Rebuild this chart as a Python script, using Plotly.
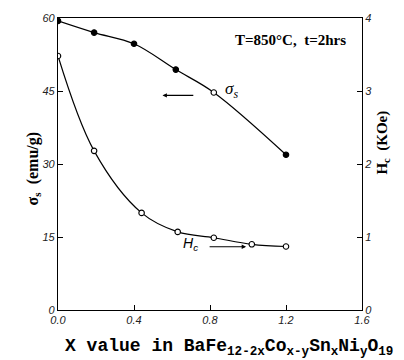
import plotly.graph_objects as go

# sigma_s data (left axis, emu/g)
sigma_x = [0.0, 0.19, 0.40, 0.62, 0.82, 1.20]
sigma_y = [59.4, 57.0, 54.7, 49.4, 44.7, 31.9]
sigma_filled = [True, True, True, True, False, True]

# Hc data (right axis, KOe)
hc_x = [0.0, 0.19, 0.44, 0.63, 0.82, 1.02, 1.20]
hc_y = [3.48, 2.18, 1.33, 1.07, 0.99, 0.90, 0.87]

x_ticks = [0.0, 0.4, 0.8, 1.2, 1.6]
x_ticklabels = ["0.0", "0.4", "0.8", "1.2", "1.6"]
y1_ticks = [0, 15, 30, 45, 60]
y2_ticks = [0, 1, 2, 3, 4]

serif = "Liberation Serif"

fig = go.Figure()
fig.add_trace(go.Scatter(
    x=sigma_x, y=sigma_y, mode="lines+markers",
    line=dict(color="black", width=1.2, shape="spline", smoothing=1.0),
    marker=dict(size=5.5, symbol="circle",
                color=["black" if f else "white" for f in sigma_filled],
                line=dict(color="black", width=1.1)),
    showlegend=False, yaxis="y"))
fig.add_trace(go.Scatter(
    x=hc_x, y=hc_y, mode="lines+markers",
    line=dict(color="black", width=1.2, shape="spline", smoothing=1.0),
    marker=dict(size=5.5, symbol="circle", color="white",
                line=dict(color="black", width=1.1)),
    showlegend=False, yaxis="y2"))

tickfont = dict(family="Liberation Sans", size=11, color="#222", style="italic")

fig.update_layout(
    width=404, height=360,
    margin=dict(l=58, r=42, t=15, b=50),
    plot_bgcolor="white", paper_bgcolor="white",
    xaxis=dict(range=[0, 1.6], tickvals=x_ticks, ticktext=x_ticklabels,
               ticks="inside", ticklen=5, tickcolor="black",
               showline=True, linecolor="black", linewidth=1.2, mirror=True,
               showgrid=False, zeroline=False, tickfont=tickfont),
    yaxis=dict(range=[0, 60], tickvals=y1_ticks,
               ticks="inside", ticklen=5, tickcolor="black",
               showline=True, linecolor="black", linewidth=1.2,
               showgrid=False, zeroline=False, tickfont=tickfont),
    yaxis2=dict(range=[0, 4], tickvals=y2_ticks, overlaying="y", side="right",
                ticks="inside", ticklen=5, tickcolor="black",
                showline=True, linecolor="black", linewidth=1.2,
                showgrid=False, zeroline=False, tickfont=tickfont),
)

# axis titles
fig.add_annotation(x=-0.12, y=0.485, xref="paper", yref="paper", textangle=-90,
                   text="σ<sub>s</sub>  (emu/g)", showarrow=False,
                   font=dict(family=serif, size=16, color="black", weight="bold"))
fig.add_annotation(x=1.105, y=0.573, xref="paper", yref="paper", textangle=-90,
                   text="H<sub>c</sub>  (KOe)", showarrow=False,
                   font=dict(family=serif, size=15, color="black", weight="bold"))
fig.add_annotation(x=0.563, y=-0.128, xref="paper", yref="paper", yanchor="middle",
                   text="X value in BaFe<sub>12-2x</sub>Co<sub>x-y</sub>Sn<sub>x</sub>Ni<sub>y</sub>O<sub>19</sub>",
                   showarrow=False,
                   font=dict(family="Liberation Mono", size=18, color="black", weight="bold"))

fig.add_annotation(x=1.226, y=55.5, xref="x", yref="y", text="<b>T=850°C,  t=2hrs</b>",
                   showarrow=False, font=dict(family=serif, size=15, color="black"))
fig.add_annotation(x=0.87, y=45.2, xref="x", yref="y", text="σ<sub>s</sub>",
                   showarrow=False, xanchor="left",
                   font=dict(family=serif, size=17, color="black", style="italic"))
fig.add_annotation(x=0.55, y=44.1, ax=0.72, ay=44.1, xref="x", yref="y", axref="x", ayref="y",
                   text="", showarrow=True, arrowhead=2, arrowsize=0.8, arrowwidth=1.1,
                   arrowcolor="black")
fig.add_annotation(x=0.745, y=13.6, xref="x", yref="y", text="H<sub>c</sub>",
                   showarrow=False, xanchor="right",
                   font=dict(family="Liberation Sans", size=14, color="black", style="italic"))
fig.add_annotation(x=0.99, y=13.0, ax=0.79, ay=13.0, xref="x", yref="y", axref="x", ayref="y",
                   text="", showarrow=True, arrowhead=2, arrowsize=0.8, arrowwidth=1.1,
                   arrowcolor="black")

fig.write_html("out.html")
